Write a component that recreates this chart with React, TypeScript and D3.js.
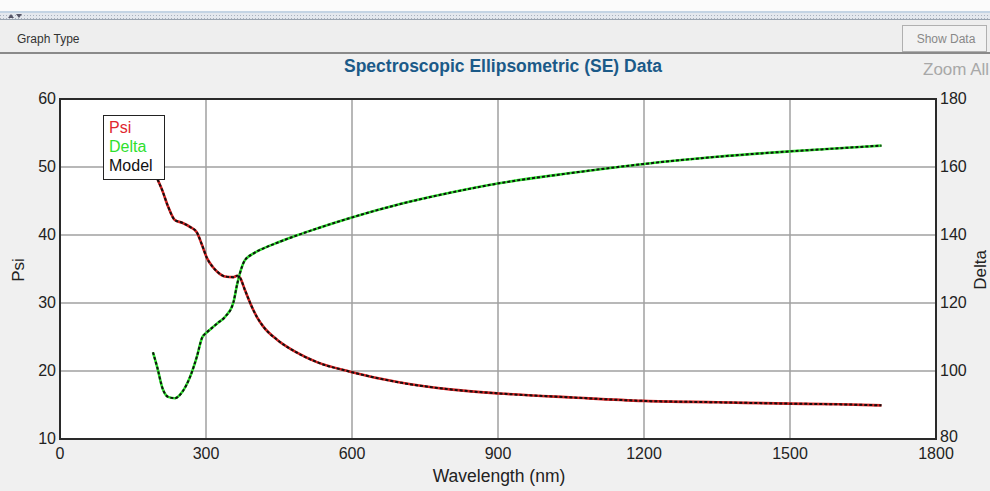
import React from "react";
import * as d3 from "d3";

// wavelength samples (nm)
const wavelengths = [191, 200, 210, 222, 236, 251, 267, 281, 292, 302, 314, 323, 339, 356, 364, 370, 380, 397, 405, 417, 446, 487, 528, 596, 699, 801, 902, 1054, 1200, 1350, 1500, 1600, 1688];
const psiValues = [50.3, 48.3, 46.6, 44.2, 42.2, 41.8, 41.2, 40.4, 38.5, 36.6, 35.3, 34.6, 33.9, 33.8, 34.0, 33.7, 31.9, 29.0, 27.9, 26.6, 24.6, 22.7, 21.3, 19.9, 18.3, 17.3, 16.7, 16.1, 15.6, 15.4, 15.2, 15.1, 14.95];
const deltaValues = [105.5, 101.0, 95.2, 92.4, 92.0, 93.8, 98.2, 104.1, 109.8, 111.4, 112.9, 114.0, 115.9, 120.0, 125.5, 128.9, 132.6, 134.5, 135.2, 136.0, 137.7, 139.9, 141.9, 145.0, 149.1, 152.4, 155.2, 158.3, 160.9, 163.0, 164.6, 165.5, 166.3];

const xTicks = [0, 300, 600, 900, 1200, 1500, 1800];
const psiTicks = [10, 20, 30, 40, 50, 60];
const deltaTicks = [80, 100, 120, 140, 160, 180];

const W = 990;
const H = 491;
const plot = {left: 60, right: 936, top: 99, bottom: 439};
const font = "'Liberation Sans', Arial, sans-serif";

const App = () => {
    const x = d3.scaleLinear().domain([0, 1800]).range([plot.left, plot.right]);
    const yPsi = d3.scaleLinear().domain([10, 60]).range([plot.bottom, plot.top]);
    const yDelta = d3.scaleLinear().domain([80, 180]).range([plot.bottom, plot.top]);

    const psiLine = d3.line<number>()
        .x((d, i) => x(wavelengths[i]))
        .y(d => yPsi(d))
        .curve(d3.curveMonotoneX);
    const deltaLine = d3.line<number>()
        .x((d, i) => x(wavelengths[i]))
        .y(d => yDelta(d))
        .curve(d3.curveMonotoneX);

    const psiPath = psiLine(psiValues) || "";
    const deltaPath = deltaLine(deltaValues) || "";

    return (
        <svg width={W} height={H} style={{position: "fixed", left: 0, top: 0}} fontFamily={font}>
            <defs>
                <pattern id="dots" width="3" height="3" patternUnits="userSpaceOnUse">
                    <rect width="3" height="3" fill="#e4e8ee"/>
                    <rect width="1" height="1" fill="#a8b0bc"/>
                </pattern>
            </defs>
            {/* window chrome */}
            <rect x={0} y={0} width={W} height={H} fill="#f0f0f0"/>
            <rect x={0} y={0} width={W} height={11} fill="#fbfbfb"/>
            <rect x={0} y={11} width={W} height={2} fill="#c4d4e4"/>
            <rect x={0} y={13} width={W} height={6} fill="url(#dots)"/>
            <path d="M8,18 L11,14 L14,18 Z" fill="#556"/>
            <path d="M16,14 L22,14 L19,18 Z" fill="#556"/>
            <rect x={0} y={19} width={W} height={1} fill="#9aa4b0"/>
            <rect x={0} y={20} width={W} height={32} fill="#eeeeee"/>
            <text x={17} y={43} fontSize={12} fill="#333">Graph Type</text>
            <rect x={902.5} y={25.5} width={84} height={26} fill="#f2f2f2" stroke="#b0b0b0"/>
            <text x={946} y={43} fontSize={12} fill="#888" textAnchor="middle">Show Data</text>
            <rect x={0} y={52} width={W} height={2} fill="#8a8a8a"/>
            <rect x={0} y={54} width={W} height={437} fill="#f0f0f0"/>

            <text x={503} y={72} fontSize={17.5} fontWeight="bold" fill="#1b5a88" textAnchor="middle">
                Spectroscopic Ellipsometric (SE) Data
            </text>
            <text x={923} y={75} fontSize={17} fill="#a8a8a8">Zoom All</text>

            {/* plot area */}
            <rect x={plot.left} y={plot.top} width={plot.right - plot.left} height={plot.bottom - plot.top} fill="#fff"/>
            <g stroke="#a0a0a0" strokeWidth={1.5}>
                {xTicks.slice(1, -1).map(t => (
                    <line key={t} x1={x(t)} x2={x(t)} y1={plot.top} y2={plot.bottom}/>
                ))}
                {psiTicks.slice(1, -1).map(t => (
                    <line key={t} x1={plot.left} x2={plot.right} y1={yPsi(t)} y2={yPsi(t)}/>
                ))}
            </g>

            {/* data + model */}
            <path d={psiPath} fill="none" stroke="#d42020" strokeWidth={2.6}/>
            <path d={psiPath} fill="none" stroke="#111" strokeWidth={2} strokeDasharray="3,2"/>
            <path d={deltaPath} fill="none" stroke="#2ee02e" strokeWidth={2.6}/>
            <path d={deltaPath} fill="none" stroke="#111" strokeWidth={2} strokeDasharray="3,2"/>

            <rect x={plot.left} y={plot.top} width={plot.right - plot.left} height={plot.bottom - plot.top}
                  fill="none" stroke="#2a2a2a" strokeWidth={2}/>

            {/* legend */}
            <rect x={103.5} y={115.5} width={61} height={64} fill="#fff" stroke="#222"/>
            <text x={109} y={133} fontSize={16} fill="#e0262e">Psi</text>
            <text x={109} y={152} fontSize={16} fill="#2ee02e">Delta</text>
            <text x={109} y={171} fontSize={16} fill="#111">Model</text>

            {/* axes labels */}
            <g fontSize={16} fill="#222">
                {psiTicks.map(t => (
                    <text key={t} x={56} y={yPsi(t) + 5} textAnchor="end">{t}</text>
                ))}
                {deltaTicks.map(t => (
                    <text key={t} x={940} y={yDelta(t) + (t === 80 ? 3 : 5)}>{t}</text>
                ))}
                {xTicks.map(t => (
                    <text key={t} x={x(t)} y={459} textAnchor="middle">{t}</text>
                ))}
                <text x={499} y={482} fontSize={17.5} textAnchor="middle">Wavelength (nm)</text>
                <text transform="translate(24,270) rotate(-90)" fontSize={17} textAnchor="middle">Psi</text>
                <text transform="translate(986,270) rotate(-90)" fontSize={17} textAnchor="middle">Delta</text>
            </g>
        </svg>
    );
};

export default App;
